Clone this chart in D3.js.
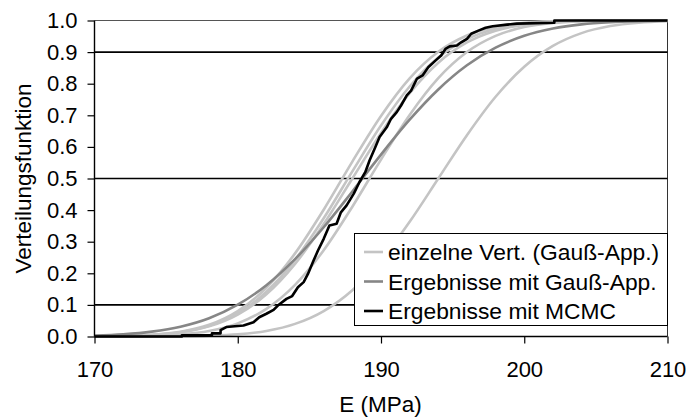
<!DOCTYPE html>
<html>
<head>
<meta charset="utf-8">
<script src="https://cdn.jsdelivr.net/npm/d3@7"></script>
<style>
  html, body { margin: 0; padding: 0; background: #fff; }
  svg { display: block; font-family: "Liberation Sans", Arial, sans-serif; }
</style>
</head>
<body>
<svg id="chart" width="689" height="419"></svg>
<script>
// ---------- data ----------
const xGrid = [170,172,174,176,178,180,182,184,186,188,190,192,194,196,198,200,202,204,206,208,210];

// individual distributions (Gaussian approximation), light grey
const single1 = [0.0004,0.0016,0.0053,0.0150,0.0369,0.0805,0.1543,0.2630,0.4013,0.5536,0.6980,0.8169,0.9010,0.9526,0.9800,0.9926,0.9976,0.9993,0.9998,1.0,1.0];
const single2 = [0.0004,0.0015,0.0049,0.0136,0.0337,0.0734,0.1415,0.2426,0.3742,0.5226,0.6677,0.7912,0.8826,0.9411,0.9738,0.9898,0.9965,0.9989,0.9997,0.9999,1.0];
const single3 = [0.0004,0.0015,0.0048,0.0132,0.0322,0.0695,0.1334,0.2297,0.3558,0.5000,0.6442,0.7703,0.8666,0.9305,0.9678,0.9868,0.9952,0.9985,0.9996,0.9999,1.0];
const single4 = [0.0001,0.0006,0.0021,0.0064,0.0173,0.0415,0.0875,0.1635,0.2730,0.4108,0.5599,0.7011,0.8175,0.9001,0.9513,0.9791,0.9921,0.9974,0.9992,0.9998,1.0];
const single5 = [0.0,0.0001,0.0002,0.0008,0.0025,0.0070,0.0177,0.0399,0.0805,0.1465,0.2414,0.3630,0.5000,0.6370,0.7586,0.8535,0.9195,0.9601,0.9823,0.9930,0.9975];
const singleSeries = [single1, single2, single3, single4, single5];

// combined result with Gaussian approximation, dark grey
const gaussResult = [0.0030,0.0070,0.0154,0.0310,0.0579,0.1006,0.1625,0.2449,0.3457,0.4590,0.5757,0.6861,0.7818,0.8583,0.9141,0.9516,0.9746,0.9878,0.9945,0.9977,0.9991];

// MCMC result (empirical distribution), black
const mcmcE = [170,176.1,176.1,178.2,178.2,178.8,178.8,179.2,180.4,181.1,181.5,182.0,182.5,182.8,183.4,183.8,184.2,184.6,184.9,185.3,185.6,186.0,186.4,186.9,187.2,187.6,188.1,188.5,188.9,189.2,189.6,189.9,190.4,190.7,191.1,191.4,191.8,192.1,192.5,192.9,193.3,193.8,194.2,194.5,194.8,195.3,195.6,196.0,196.3,196.8,197.3,197.8,198.8,199.5,202.1,202.1,210];
const mcmcF = [0,0,0.004,0.004,0.010,0.010,0.020,0.030,0.035,0.045,0.061,0.072,0.084,0.098,0.119,0.128,0.156,0.172,0.198,0.241,0.272,0.309,0.351,0.357,0.393,0.415,0.452,0.489,0.520,0.557,0.599,0.631,0.662,0.689,0.710,0.731,0.763,0.778,0.815,0.826,0.852,0.873,0.889,0.910,0.918,0.921,0.931,0.942,0.958,0.968,0.977,0.982,0.987,0.990,0.993,1.0,1.0];

const xTicks = [170,180,190,200,210];
const yTicks = [0,0.1,0.2,0.3,0.4,0.5,0.6,0.7,0.8,0.9,1.0];
const gridValues = [0.1,0.5,0.9];
const legendLabels = ["einzelne Vert. (Gauß-App.)", "Ergebnisse mit Gauß-App.", "Ergebnisse mit MCMC"];
const xTitle = "E (MPa)";
const yTitle = "Verteilungsfunktion";

// ---------- layout ----------
const svg = d3.select("#chart");
const pLeft = 94.5, pRight = 667.5, pTop = 20.5, pBottom = 336.5;
const x = d3.scaleLinear().domain([170,210]).range([pLeft,pRight]);
const y = d3.scaleLinear().domain([0,1]).range([pBottom,pTop]);

const C_LIGHT = "#c4c4c4", C_DARK = "#868686", C_BLACK = "#000";

// frame (top & right)
svg.append("line").attr("x1",pLeft).attr("x2",pRight).attr("y1",pTop).attr("y2",pTop)
  .attr("stroke","#555").attr("stroke-width",1);
svg.append("line").attr("x1",pRight).attr("x2",pRight).attr("y1",pTop).attr("y2",pBottom)
  .attr("stroke","#333").attr("stroke-width",1);

// grid lines
svg.append("g").selectAll("line").data(gridValues).join("line")
  .attr("x1",pLeft).attr("x2",pRight)
  .attr("y1",d=>y(d)).attr("y2",d=>y(d))
  .attr("stroke","#000").attr("stroke-width",1.6);

// curves
const line = d3.line().x((d,i)=>x(xGrid[i])).y(d=>y(d)).curve(d3.curveMonotoneX);
svg.append("g").selectAll("path").data(singleSeries).join("path")
  .attr("d", d=>line(d)).attr("fill","none")
  .attr("stroke",C_LIGHT).attr("stroke-width",2.6);
svg.append("path").attr("d", line(gaussResult)).attr("fill","none")
  .attr("stroke",C_DARK).attr("stroke-width",2.6);
const mline = d3.line().x((d,i)=>x(mcmcE[i])).y(d=>y(d)).curve(d3.curveLinear);
svg.append("path").attr("d", mline(mcmcF)).attr("fill","none")
  .attr("stroke",C_BLACK).attr("stroke-width",2.6).attr("stroke-linejoin","round");

// axes
const xAxis = d3.axisBottom(x).tickValues(xTicks).tickSize(7).tickPadding(18).tickFormat(d3.format("d"));
const gx = svg.append("g").attr("transform",`translate(0,${pBottom})`).call(xAxis);
const yAxis = d3.axisLeft(y).tickValues(yTicks).tickSize(7).tickPadding(10).tickFormat(d3.format(".1f"));
const gy = svg.append("g").attr("transform",`translate(${pLeft},0)`).call(yAxis);
[gx, gy].forEach(g => {
  g.select(".domain").attr("stroke","#000").attr("stroke-width",1.4);
  g.selectAll(".tick line").attr("stroke","#000").attr("stroke-width",1.2);
  g.selectAll(".tick text").attr("fill","#000").style("font-size","22px")
   .style("font-family",'"Liberation Sans", Arial, sans-serif');
});
gx.select(".domain").attr("d",`M${pLeft},0H${pRight}`);
gy.select(".domain").attr("d",`M0,${pBottom}V${pTop}`);

// axis titles
svg.append("text").attr("x",(pLeft+pRight)/2 - 0.5).attr("y",412).attr("text-anchor","middle")
  .style("font-size","22.5px").attr("fill","#000").text(xTitle);
svg.append("text").attr("transform",`translate(31,${(pTop+pBottom)/2}) rotate(-90)`)
  .attr("text-anchor","middle").style("font-size","22.5px").attr("fill","#000").text(yTitle);

// legend
const lg = svg.append("g");
lg.append("rect").attr("x",354.5).attr("y",233.5).attr("width",313).attr("height",92)
  .attr("fill","#fff").attr("stroke","#000").attr("stroke-width",1);
const legColors = [C_LIGHT, C_DARK, C_BLACK];
const rows = lg.selectAll("g.row").data(legendLabels).join("g")
  .attr("transform",(d,i)=>`translate(0,${252 + i*29.5})`);
rows.append("line").attr("x1",364).attr("x2",383).attr("y1",0).attr("y2",0)
  .attr("stroke",(d,i)=>legColors[i]).attr("stroke-width",2.6);
rows.append("text").attr("x",388).attr("y",0).attr("dy","0.36em")
  .style("font-size","22.8px").attr("fill","#000").text(d=>d);
</script>
</body>
</html>
